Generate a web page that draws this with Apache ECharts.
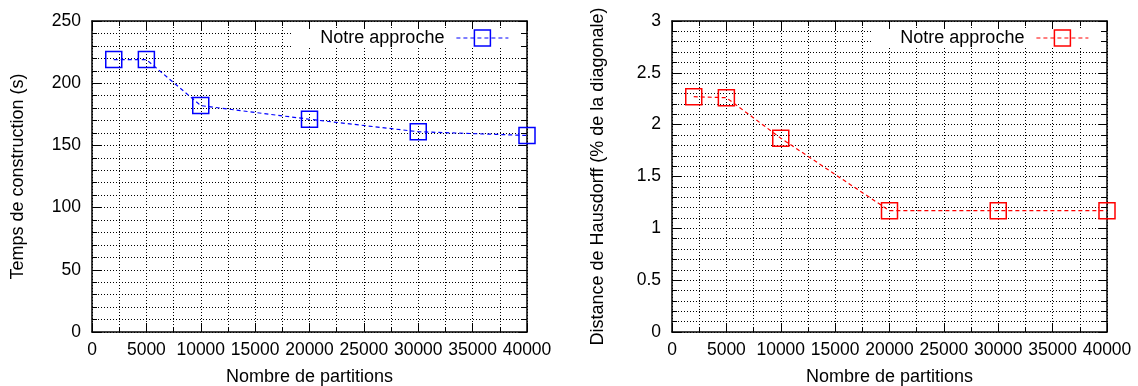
<!DOCTYPE html>
<html>
<head>
<meta charset="utf-8">
<script src="https://cdn.jsdelivr.net/npm/echarts@6/dist/echarts.min.js"></script>
<style>
html,body{margin:0;padding:0;background:#fff;}
#c{width:1138px;height:386px;}
</style>
</head>
<body>
<div id="c"></div>
<script>
// ---- data ----
const partitions = [2000, 5000, 10000, 20000, 30000, 40000];
const tempsConstruction = [219, 219, 182, 171, 161, 158];
const distanceHausdorff = [2.27, 2.26, 1.87, 1.17, 1.17, 1.17];
const seriesName = 'Notre approche';
const xTitle = 'Nombre de partitions';
const yTitleLeft = 'Temps de construction (s)';
const yTitleRight = 'Distance de Hausdorff (% de la diagonale)';

const FONT = 'Liberation Sans';
const BLUE = '#0000ff';
const RED = '#ff0000';

function pairs(xs, ys) { return xs.map((x, i) => [x, ys[i]]); }

const dotted = { color: '#000', width: 1, type: [1, 2] };

function xAxisMain(gridIndex) {
  return {
    type: 'value', gridIndex, position: 'bottom', min: 0, max: 40000, interval: 5000,
    name: xTitle, nameLocation: 'middle', nameGap: 36,
    nameTextStyle: { fontFamily: FONT, fontSize: 18, color: '#000' },
    axisLine: { show: true, onZero: false, lineStyle: { color: '#000', width: 1.5 } },
    axisTick: { show: true, inside: true, length: 9, lineStyle: { color: '#000', width: 1 } },
    minorTick: { show: true, splitNumber: 2, length: 5, lineStyle: { color: '#000', width: 1 } },
    axisLabel: { fontFamily: FONT, fontSize: 17.5, color: '#000', margin: 9, hideOverlap: false,
      formatter: v => String(v) },
    splitLine: { show: true, lineStyle: dotted },
    minorSplitLine: { show: true, lineStyle: dotted }
  };
}
function xAxisMirror(gridIndex) {
  return {
    type: 'value', gridIndex, position: 'top', min: 0, max: 40000, interval: 5000,
    axisLine: { show: true, onZero: false, lineStyle: { color: '#000', width: 1.5 } },
    axisTick: { show: true, inside: true, length: 9, lineStyle: { color: '#000', width: 1 } },
    minorTick: { show: true, splitNumber: 2, length: 5, lineStyle: { color: '#000', width: 1 } },
    axisLabel: { show: false },
    splitLine: { show: false }
  };
}
function yAxisMain(gridIndex, max, interval, title) {
  return {
    type: 'value', gridIndex, position: 'left', min: 0, max, interval,
    name: title, nameLocation: 'middle', nameGap: 65, nameRotate: 90,
    nameTextStyle: { fontFamily: FONT, fontSize: 18, color: '#000' },
    axisLine: { show: true, onZero: false, lineStyle: { color: '#000', width: 1.5 } },
    axisTick: { show: true, inside: true, length: 9, lineStyle: { color: '#000', width: 1 } },
    minorTick: { show: true, splitNumber: 5, length: 5, lineStyle: { color: '#000', width: 1 } },
    axisLabel: { fontFamily: FONT, fontSize: 17.5, color: '#000', margin: 11, formatter: v => String(v) },
    splitLine: { show: true, lineStyle: dotted },
    minorSplitLine: { show: true, lineStyle: dotted }
  };
}
function yAxisMirror(gridIndex, max, interval) {
  return {
    type: 'value', gridIndex, position: 'right', min: 0, max, interval,
    axisLine: { show: true, onZero: false, lineStyle: { color: '#000', width: 1.5 } },
    axisTick: { show: true, inside: true, length: 9, lineStyle: { color: '#000', width: 1 } },
    minorTick: { show: true, splitNumber: 5, length: 5, lineStyle: { color: '#000', width: 1 } },
    axisLabel: { show: false },
    splitLine: { show: false }
  };
}
function lineSeries(name, data, color, xi, yi) {
  return {
    type: 'line', name, data, xAxisIndex: xi, yAxisIndex: yi,
    symbol: 'rect', symbolSize: 16,
    itemStyle: { color: 'transparent', borderColor: color, borderWidth: 1.5 },
    lineStyle: { color, width: 1.2, type: [4, 3] },
    emphasis: { disabled: true },
    animation: false, z: 3
  };
}
function legend(name, right, color) {
  return {
    data: [name], right, top: 29, orient: 'horizontal', align: 'right',
    itemWidth: 52, itemHeight: 20, backgroundColor: '#fff',
    padding: [0, 10, 0, 28],
    formatter: n => n.trim(),
    itemStyle: { borderWidth: 1.5 },
    lineStyle: { width: 1.2 },
    textStyle: { fontFamily: FONT, fontSize: 18, color: '#000', padding: [0, 7, 0, 0] },
    selectedMode: false
  };
}

const chart = echarts.init(document.getElementById('c'), null, { renderer: 'canvas' });
chart.setOption({
  backgroundColor: '#fff',
  animation: false,
  grid: [
    { left: 92, top: 21, width: 435, height: 311, containLabel: false, outerBoundsMode: 'none' },
    { left: 672, top: 21, width: 435, height: 311, containLabel: false, outerBoundsMode: 'none' }
  ],
  xAxis: [xAxisMain(0), xAxisMirror(0), xAxisMain(1), xAxisMirror(1)],
  yAxis: [
    yAxisMain(0, 250, 50, yTitleLeft), yAxisMirror(0, 250, 50),
    yAxisMain(1, 3, 0.5, yTitleRight), yAxisMirror(1, 3, 0.5)
  ],
  legend: [legend(seriesName, 619, BLUE), legend(seriesName + ' ', 39, RED)],
  series: [
    lineSeries(seriesName, pairs(partitions, tempsConstruction), BLUE, 0, 0),
    lineSeries(seriesName + ' ', pairs(partitions, distanceHausdorff), RED, 2, 2)
  ]
});
</script>
</body>
</html>
